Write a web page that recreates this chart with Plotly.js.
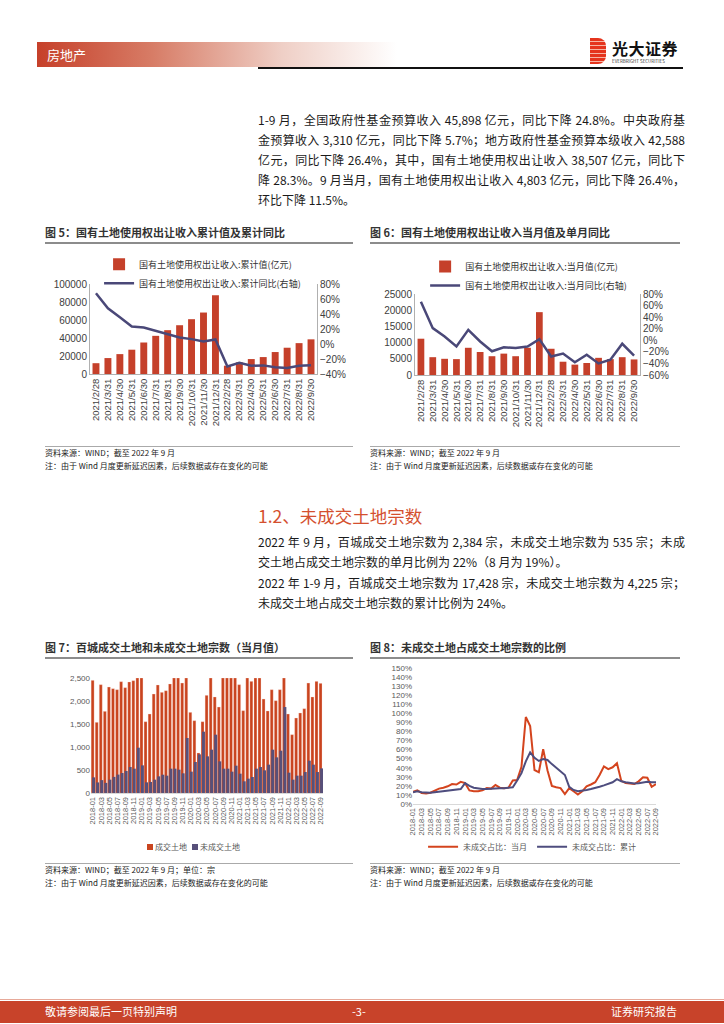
<!DOCTYPE html>
<html><head><meta charset="utf-8">
<script src="https://cdn.plot.ly/plotly-3.0.1.min.js"></script>
<style>
body{margin:0;background:#fff;}
#page{position:relative;width:724px;height:1024px;overflow:hidden;font-family:"Noto Sans CJK SC","Noto Sans",sans-serif;color:#1a1a1a;}
.pl{position:absolute;left:258px;width:427px;font-size:12px;line-height:20px;height:20px;text-align:justify;text-align-last:justify;}
.last{text-align-last:left;}
.ct{position:absolute;font-size:11px;line-height:14px;font-weight:bold;color:#333;}
.rule{position:absolute;height:1.5px;background:#8c8c8c;}
.src{position:absolute;font-size:8px;line-height:10px;color:#222;white-space:nowrap;}
.chart{position:absolute;}
.lg{position:absolute;font-size:8px;line-height:10px;color:#595959;white-space:nowrap;}
.sq{position:absolute;width:6px;height:6px;}
</style></head>
<body>
<div id="page">
  <!-- header -->
  <div style="position:absolute;left:37px;top:42px;width:360px;height:25px;background:linear-gradient(to right,#c6402a 0%,#d77c66 32%,#efcfc6 68%,#ffffff 100%);"></div>
  <div style="position:absolute;left:47px;top:46px;font-size:13px;line-height:17px;color:#fff;">房地产</div>
  <div style="position:absolute;left:258px;top:67px;width:425px;height:1.5px;background:#111;"></div>
  <div style="position:absolute;left:590px;top:38px;width:16px;height:26px;background:repeating-linear-gradient(to bottom,#e5341d 0px,#e5341d 3px,#f6b4a4 3px,#f6b4a4 4px);border-radius:0 8px 8px 0;"></div>
  <div style="position:absolute;left:612px;top:39px;font-size:16px;line-height:19px;font-weight:bold;color:#111;letter-spacing:0.5px;">光大证券</div>
  <div style="position:absolute;left:612px;top:59px;font-size:4.5px;line-height:5px;color:#333;white-space:nowrap;">EVERBRIGHT SECURITIES</div>

  <!-- paragraph 1 -->
  <div class="pl" style="top:110px;">1-9 月，全国政府性基金预算收入 45,898 亿元，同比下降 24.8%。中央政府基</div>
  <div class="pl" style="top:130px;">金预算收入 3,310 亿元，同比下降 5.7%；地方政府性基金预算本级收入 42,588</div>
  <div class="pl" style="top:150px;">亿元，同比下降 26.4%，其中，国有土地使用权出让收入 38,507 亿元，同比下</div>
  <div class="pl" style="top:170px;">降 28.3%。9 月当月，国有土地使用权出让收入 4,803 亿元，同比下降 26.4%，</div>
  <div class="pl last" style="top:190px;">环比下降 11.5%。</div>

  <!-- chart 5 / 6 titles -->
  <div class="ct" style="left:45px;top:225px;">图 5：国有土地使用权出让收入累计值及累计同比</div>
  <div class="rule" style="left:45px;top:242px;width:308px;"></div>
  <div class="ct" style="left:370px;top:225px;">图 6：国有土地使用权出让收入当月值及单月同比</div>
  <div class="rule" style="left:370px;top:242px;width:310px;"></div>

  <div id="c5" class="chart" style="left:40px;top:248px;width:320px;height:192px;"></div>
  <div id="c6" class="chart" style="left:365px;top:248px;width:320px;height:192px;"></div>

  <div class="rule" style="left:45px;top:446px;width:308px;height:1px;background:#aaa;"></div>
  <div class="rule" style="left:370px;top:446px;width:310px;height:1px;background:#aaa;"></div>
  <div class="src" style="left:45px;top:448px;">资料来源：WIND；截至 2022 年 9 月</div>
  <div class="src" style="left:45px;top:461px;">注：由于 Wind 月度更新延迟因素，后续数据或存在变化的可能</div>
  <div class="src" style="left:370px;top:448px;">资料来源：WIND；截至 2022 年 9 月</div>
  <div class="src" style="left:370px;top:461px;">注：由于 Wind 月度更新延迟因素，后续数据或存在变化的可能</div>

  <!-- section 1.2 -->
  <div style="position:absolute;left:258px;top:504px;font-size:17.5px;line-height:24px;color:#d4502f;">1.2、未成交土地宗数</div>
  <div class="pl" style="top:532px;">2022 年 9 月，百城成交土地宗数为 2,384 宗，未成交土地宗数为 535 宗；未成</div>
  <div class="pl last" style="top:552px;">交土地占成交土地宗数的单月比例为 22%（8 月为 19%）。</div>
  <div class="pl" style="top:573px;">2022 年 1-9 月，百城成交土地宗数为 17,428 宗，未成交土地宗数为 4,225 宗；</div>
  <div class="pl last" style="top:593px;">未成交土地占成交土地宗数的累计比例为 24%。</div>

  <!-- chart 7 / 8 titles -->
  <div class="ct" style="left:45px;top:640px;">图 7：百城成交土地和未成交土地宗数（当月值）</div>
  <div class="rule" style="left:45px;top:657px;width:308px;"></div>
  <div class="ct" style="left:370px;top:640px;">图 8：未成交土地占成交土地宗数的比例</div>
  <div class="rule" style="left:370px;top:657px;width:310px;"></div>

  <div id="c7" class="chart" style="left:40px;top:662px;width:320px;height:198px;"></div>
  <div id="c8" class="chart" style="left:365px;top:662px;width:320px;height:198px;"></div>

  <!-- chart 7 legend -->
  <div class="sq" style="left:147px;top:844px;background:#c9441f;"></div>
  <div class="lg" style="left:155px;top:842px;">成交土地</div>
  <div class="sq" style="left:192px;top:844px;background:#57507a;"></div>
  <div class="lg" style="left:200px;top:842px;">未成交土地</div>

  <div class="rule" style="left:45px;top:863px;width:308px;height:1px;background:#aaa;"></div>
  <div class="rule" style="left:370px;top:863px;width:310px;height:1px;background:#aaa;"></div>
  <div class="src" style="left:45px;top:865px;">资料来源：WIND；截至 2022 年 9 月；单位：宗</div>
  <div class="src" style="left:45px;top:878px;">注：由于 Wind 月度更新延迟因素，后续数据或存在变化的可能</div>
  <div class="src" style="left:370px;top:865px;">资料来源：WIND；截至 2022 年 9 月</div>
  <div class="src" style="left:370px;top:878px;">注：由于 Wind 月度更新延迟因素，后续数据或存在变化的可能</div>

  <!-- footer -->
  <div style="position:absolute;left:0;top:999px;width:724px;height:1px;background:#e7a999;"></div>
  <div style="position:absolute;left:0;top:1001px;width:724px;height:22px;background:#c8432a;"></div>
  <div style="position:absolute;left:45px;top:1004px;font-size:11px;line-height:15px;color:#fff;">敬请参阅最后一页特别声明</div>
  <div style="position:absolute;left:352px;top:1004px;font-size:11px;line-height:15px;color:#fff;">-3-</div>
  <div style="position:absolute;left:611px;top:1004px;font-size:11px;line-height:15px;color:#fff;">证券研究报告</div>
</div>

<script>
// ---------- data ----------
const c5Dates = ['2021/2/28','2021/3/31','2021/4/30','2021/5/31','2021/6/30','2021/7/31','2021/8/31','2021/9/30','2021/10/31','2021/11/30','2021/12/31','2022/2/28','2022/3/31','2022/4/30','2022/5/31','2022/6/30','2022/7/31','2022/8/31','2022/9/30'];
const c5Cum = [12000,17700,22100,27000,35000,42400,48700,54200,60900,68300,87500,9200,12900,16600,18800,24400,29200,34300,38507];
const c5Yoy = [67.6,47.7,35.7,23.3,22.0,17.6,12.3,8.7,6.5,3.5,6.0,-30.0,-25.0,-29.0,-28.5,-31.0,-32.0,-29.0,-28.3];

const c6Dates = c5Dates;
const c6Month = [11200,5500,5000,4900,8400,7100,5800,6600,5800,8400,19400,8100,4100,3200,3700,5300,4900,5500,4803];
const c6Yoy = [66.8,21.0,6.5,-10.7,18.0,-2.0,-19.0,-12.0,-13.5,-10.7,2.0,-28.0,-23.0,-38.0,-25.0,-40.0,-33.6,-6.0,-26.4];

const months = ['2018-01','2018-02','2018-03','2018-04','2018-05','2018-06','2018-07','2018-08','2018-09','2018-10','2018-11','2018-12',
'2019-01','2019-02','2019-03','2019-04','2019-05','2019-06','2019-07','2019-08','2019-09','2019-10','2019-11','2019-12',
'2020-01','2020-02','2020-03','2020-04','2020-05','2020-06','2020-07','2020-08','2020-09','2020-10','2020-11','2020-12',
'2021-01','2021-02','2021-03','2021-04','2021-05','2021-06','2021-07','2021-08','2021-09','2021-10','2021-11','2021-12',
'2022-01','2022-02','2022-03','2022-04','2022-05','2022-06','2022-07','2022-08','2022-09'];
const c7Sold = [2449,1536,2355,1775,2304,2268,2246,2420,2290,2413,2442,2500,2500,1550,1717,2152,2348,2188,2224,2370,2500,2500,2391,2500,1753,1572,870,1550,2123,2500,2087,1869,2500,2500,2500,2500,2355,1790,2500,2427,2500,2500,2043,1783,2246,2007,2246,2500,1717,1268,1630,1739,1833,2391,2087,2427,2384];
const c7Unsold = [340,230,280,220,290,350,400,435,478,565,529,985,601,232,240,290,362,398,377,529,529,507,428,1196,464,674,840,1333,797,942,1268,688,529,529,464,594,420,254,312,348,529,565,493,616,942,775,920,1869,442,290,377,377,456,703,616,456,535];

const c8Month = [13.5,15,12,11.5,12.5,15,17,18,19.5,22,21.5,24.5,23,15,14,14,15,17.5,17,21,18,17.5,18,26,26.5,41,96,86,37.5,35,60.5,37,20,18.5,17.5,11,17.5,14,10.5,14,19.5,21.5,24,32,41.5,38.5,40.5,45,25.5,23,22.5,22,25,29.5,29,19,22];
const c8Cum = [13,14,13,12.5,12.5,13,13.5,14,14.5,15,16,16.5,23,20,18,17,16.5,16.5,17,17.5,17.5,17.5,18,18.5,26,34,47,57,51,47.5,49.5,48.5,44,40,37,32,19,15.5,14,14.5,15.5,16.5,17.5,19,20.5,22,24,27.5,25,24,23,22.5,23,24,24.5,24,24];

// ---------- helpers ----------
function margins(box, plot){
  return {l: plot.x0-box.x, r: box.x+box.w-plot.x1, t: plot.y0-box.y, b: box.y+box.h-plot.y1, pad:0, autoexpand:false};
}
const numFont = '"Liberation Sans","Noto Sans CJK SC",sans-serif';
const cjkFont = '"Noto Sans CJK SC","Liberation Sans",sans-serif';
const cfg = {staticPlot:true, displayModeBar:false};
const BAR = '#c5402a', LINE = '#4a4878';

// ---------- chart 5 ----------
(function(){
  const box={x:40,y:248,w:320,h:192}, plot={x0:90,x1:317,y0:284,y1:374};
  const traces=[
    {type:'bar',x:c5Dates,y:c5Cum,name:'国有土地使用权出让收入:累计值(亿元)',marker:{color:BAR}},
    {type:'scatter',mode:'lines',x:c5Dates,y:c5Yoy,yaxis:'y2',name:'国有土地使用权出让收入:累计同比(右轴)',line:{color:LINE,width:2.5}}
  ];
  const layout={width:box.w,height:box.h,margin:margins(box,plot),paper_bgcolor:'rgba(0,0,0,0)',plot_bgcolor:'rgba(0,0,0,0)',
    bargap:0.42,showlegend:true,
    legend:{x:0.04,xanchor:'left',y:1.38,yanchor:'top',font:{family:cjkFont,size:9,color:'#333'},bgcolor:'rgba(0,0,0,0)',itemwidth:30,tracegroupgap:0},
    font:{family:numFont,size:10,color:'#404040'},
    xaxis:{type:'category',tickangle:-90,showgrid:false,showline:true,linecolor:'#b0b0b0',linewidth:1,ticks:'',tickfont:{size:9.5}},
    yaxis:{range:[0,100000.5],tickvals:[0,20000,40000,60000,80000,100000],tickformat:'d',showgrid:false,zeroline:false,showline:true,linecolor:'#b0b0b0',ticks:'',tickfont:{size:10}},
    yaxis2:{overlaying:'y',side:'right',range:[-40,80.01],dtick:20,ticksuffix:'%',showgrid:false,zeroline:false,showline:true,linecolor:'#b0b0b0',ticks:'',tickfont:{size:10}}
  };
  Plotly.newPlot('c5',traces,layout,cfg);
})();

// ---------- chart 6 ----------
(function(){
  const box={x:365,y:248,w:320,h:192}, plot={x0:415,x1:640,y0:294,y1:375};
  const traces=[
    {type:'bar',x:c6Dates,y:c6Month,name:'国有土地使用权出让收入:当月值(亿元)',marker:{color:BAR}},
    {type:'scatter',mode:'lines',x:c6Dates,y:c6Yoy,yaxis:'y2',name:'国有土地使用权出让收入:当月同比(右轴)',line:{color:LINE,width:2.5}}
  ];
  const layout={width:box.w,height:box.h,margin:margins(box,plot),paper_bgcolor:'rgba(0,0,0,0)',plot_bgcolor:'rgba(0,0,0,0)',
    bargap:0.43,showlegend:true,
    legend:{x:0.045,xanchor:'left',y:1.52,yanchor:'top',font:{family:cjkFont,size:9,color:'#333'},bgcolor:'rgba(0,0,0,0)',itemwidth:30,tracegroupgap:0},
    font:{family:numFont,size:10,color:'#404040'},
    xaxis:{type:'category',tickangle:-90,showgrid:false,showline:true,linecolor:'#b0b0b0',linewidth:1,ticks:'',tickfont:{size:9.5}},
    yaxis:{range:[0,25000.5],dtick:5000,tickformat:'d',showgrid:false,zeroline:false,showline:true,linecolor:'#b0b0b0',ticks:'',tickfont:{size:10}},
    yaxis2:{overlaying:'y',side:'right',range:[-60,80.01],dtick:20,ticksuffix:'%',showgrid:false,zeroline:false,showline:true,linecolor:'#b0b0b0',ticks:'',tickfont:{size:10}}
  };
  Plotly.newPlot('c6',traces,layout,cfg);
})();

// ---------- chart 7 ----------
(function(){
  const box={x:40,y:662,w:320,h:198}, plot={x0:91,x1:323,y0:678.3,y1:793.3};
  const traces=[
    {type:'bar',x:months,y:c7Sold,name:'成交土地',width:0.72,offset:-0.46,marker:{color:'#c9441f',line:{color:'rgba(255,220,210,0.7)',width:0.4}}},
    {type:'bar',x:months,y:c7Unsold,name:'未成交土地',width:0.72,offset:-0.22,marker:{color:'#57507a'}}
  ];
  const layout={width:box.w,height:box.h,margin:margins(box,plot),paper_bgcolor:'rgba(0,0,0,0)',plot_bgcolor:'rgba(0,0,0,0)',
    barmode:'overlay',showlegend:false,
    font:{family:numFont,size:8,color:'#595959'},
    xaxis:{type:'category',tickmode:'linear',tick0:0,dtick:2,tickangle:-90,showgrid:false,showline:true,linecolor:'#d9d9d9',ticks:'',tickfont:{size:7.5}},
    yaxis:{range:[0,2500.5],dtick:500,tickformat:',d',showgrid:false,zeroline:false,showline:false,ticks:'',tickfont:{size:8}}
  };
  Plotly.newPlot('c7',traces,layout,cfg);
})();

// ---------- chart 8 ----------
(function(){
  const box={x:365,y:662,w:320,h:198}, plot={x0:413,x1:656,y0:668.3,y1:804.3};
  const traces=[
    {type:'scatter',mode:'lines',x:months,y:c8Month,name:'未成交占比：当月',line:{color:'#d4441e',width:2}},
    {type:'scatter',mode:'lines',x:months,y:c8Cum,name:'未成交占比：累计',line:{color:'#4e4d7e',width:2}}
  ];
  const layout={width:box.w,height:box.h,margin:margins(box,plot),paper_bgcolor:'rgba(0,0,0,0)',plot_bgcolor:'rgba(0,0,0,0)',
    showlegend:true,
    legend:{orientation:'h',x:0.49,xanchor:'center',y:-0.315,yanchor:'middle',font:{family:cjkFont,size:8,color:'#595959'},bgcolor:'rgba(0,0,0,0)',itemwidth:30},
    font:{family:numFont,size:8,color:'#595959'},
    xaxis:{type:'category',tickmode:'linear',tick0:0,dtick:2,tickangle:-90,showgrid:false,showline:true,linecolor:'#d9d9d9',ticks:'',tickfont:{size:7.5}},
    yaxis:{range:[0,150.01],dtick:10,ticksuffix:'%',showgrid:false,zeroline:false,showline:false,ticks:'',tickfont:{size:8}}
  };
  Plotly.newPlot('c8',traces,layout,cfg);
})();
</script>
</body></html>
